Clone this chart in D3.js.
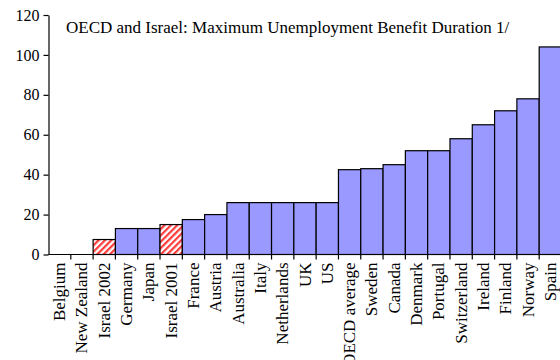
<!DOCTYPE html>
<html>
<head>
<meta charset="utf-8">
<script src="https://cdn.jsdelivr.net/npm/d3@7"></script>
<style>
  body { margin: 0; background: #fff; }
  svg { display: block; font-family: "Liberation Serif", "Times New Roman", serif; }
</style>
</head>
<body>
<script>
// chart size
const width = 560, height = 360;
const margin = {left: 48.5, top: 15, right: -1.5, bottom: 105.5};

// maximum benefit duration, weeks
const countries = ["Belgium", "New Zealand", "Israel 2002", "Germany", "Japan", "Israel 2001",
  "France", "Austria", "Australia", "Italy", "Netherlands", "UK", "US", "OECD average",
  "Sweden", "Canada", "Denmark", "Portugal", "Switzerland", "Ireland", "Finland", "Norway", "Spain"];
const weeks = [0, 0, 7.5, 13, 13, 15, 17.5, 20, 26, 26, 26, 26, 26, 42.5,
  43, 45, 52, 52, 58, 65, 72, 78, 104];
const israel = ["Israel 2002", "Israel 2001"];
const yTicks = [0, 20, 40, 60, 80, 100, 120];
const title = "OECD and Israel: Maximum Unemployment Benefit Duration 1/";

const svg = d3.select("body").append("svg")
    .attr("width", width)
    .attr("height", height);

// red diagonal hatch for the Israel bars
svg.append("defs").append("pattern")
    .attr("id", "hatch")
    .attr("patternUnits", "userSpaceOnUse")
    .attr("width", 4.5)
    .attr("height", 4.5)
    .attr("patternTransform", "rotate(45)")
  .call(p => {
      p.append("rect").attr("width", 4.5).attr("height", 4.5).attr("fill", "#fff");
      p.append("rect").attr("width", 2.2).attr("height", 4.5).attr("fill", "#ff3b3b");
  });

const x = d3.scaleBand()
    .domain(countries)
    .range([margin.left, width - margin.right])
    .padding(0);

const y = d3.scaleLinear()
    .domain([0, 120])
    .range([height - margin.bottom, margin.top]);

// bars
svg.append("g")
  .selectAll("rect")
  .data(countries.map((c, i) => ({c, v: weeks[i]})).filter(d => d.v > 0))
  .join("rect")
    .attr("x", d => x(d.c))
    .attr("y", d => y(d.v))
    .attr("width", x.bandwidth())
    .attr("height", d => y(0) - y(d.v))
    .attr("fill", d => israel.includes(d.c) ? "url(#hatch)" : "#9999ff")
    .attr("stroke", "#000")
    .attr("stroke-width", 1.2);

// y axis
const yAxis = svg.append("g")
    .attr("transform", `translate(${margin.left},0)`)
    .call(d3.axisLeft(y).tickValues(yTicks).tickSize(5).tickPadding(4).tickSizeOuter(0));
yAxis.select(".domain").attr("stroke-width", 1.2);
yAxis.selectAll("line").attr("stroke-width", 1.2);
yAxis.selectAll("text")
    .attr("font-family", "Liberation Serif")
    .attr("font-size", 16)
    .attr("fill", "#000");

// x axis: ticks sit on the band edges
const xAxis = svg.append("g")
    .attr("transform", `translate(0,${y(0)})`);
xAxis.append("line")
    .attr("x1", margin.left)
    .attr("x2", width - margin.right)
    .attr("stroke", "#000")
    .attr("stroke-width", 1.2);
xAxis.selectAll("line.tick")
  .data(countries.slice(1).concat(["__end"]))
  .join("line")
    .attr("class", "tick")
    .attr("x1", (d, i) => margin.left + (i + 1) * x.bandwidth())
    .attr("x2", (d, i) => margin.left + (i + 1) * x.bandwidth())
    .attr("y1", 0)
    .attr("y2", 5)
    .attr("stroke", "#000")
    .attr("stroke-width", 1.2);
xAxis.selectAll("text")
  .data(countries)
  .join("text")
    .attr("transform", d => `translate(${x(d) + x.bandwidth() / 2 + 5.5},8) rotate(-90)`)
    .attr("text-anchor", "end")
    .attr("font-size", 17)
    .attr("fill", "#000")
    .text(d => d);

// title
svg.append("text")
    .attr("x", 66)
    .attr("y", 33)
    .attr("font-size", 17)
    .attr("fill", "#000")
    .text(title);
</script>
</body>
</html>
